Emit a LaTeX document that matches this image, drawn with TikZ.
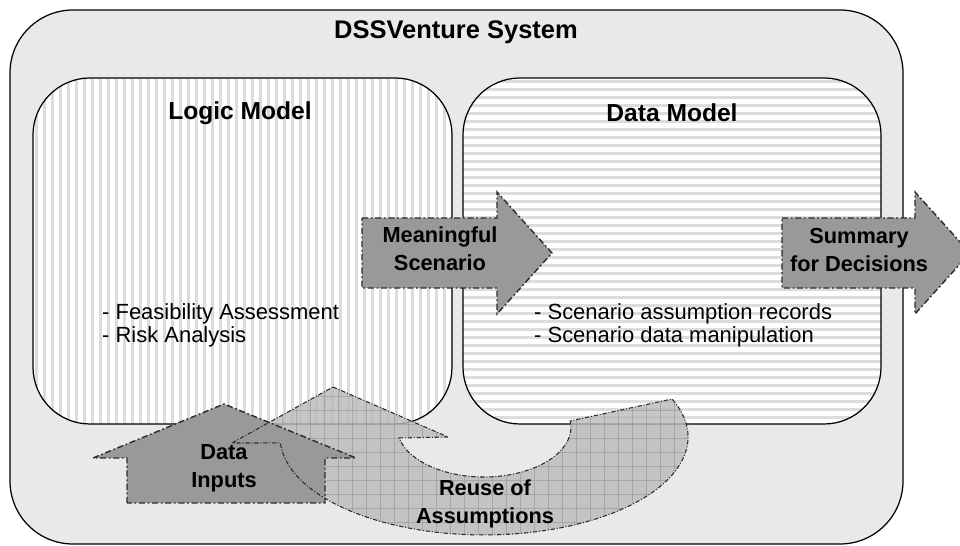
\documentclass[tikz,border=0pt]{standalone}
\usepackage{fontspec}
\setmainfont{Liberation Sans}
\usetikzlibrary{positioning, calc}

\definecolor{sysgray}{HTML}{E9E9E9}
\definecolor{stripegray}{HTML}{DCDCDC}
\definecolor{arrowgray}{HTML}{999999}
\definecolor{reusegray}{HTML}{BABABA}
\definecolor{gridgray}{HTML}{A0A0A0}
\definecolor{edgegray}{HTML}{2B2B2B}

\tikzset{
  modelbox/.style={draw=black, line width=0.7pt, rounded corners=1.14cm},
  blockarrow/.style={fill=arrowgray, draw=edgegray, line width=0.8pt,
    dash pattern=on 3.5pt off 1.5pt on 1pt off 1.5pt},
  reuseedge/.style={draw=edgegray, line width=0.6pt,
    dash pattern=on 2.5pt off 1pt on 0.6pt off 1pt},
  boxtitle/.style={font=\bfseries\fontsize{14}{16}\selectfont},
  arrowlabel/.style={font=\bfseries\fontsize{12.4}{16}\selectfont, align=center},
  itemtext/.style={font=\fontsize{12.5}{13.1}\selectfont, align=left, anchor=west},
}

\begin{document}
\begin{tikzpicture}[x=0.02cm, y=-0.02cm]
    \useasboundingbox (0,0) rectangle (960,546);

    % --- System frame ---
    \draw[fill=sysgray, line width=0.7pt, rounded corners=1.26cm] (10,10) rectangle (903,544);
    \node[boxtitle, font=\bfseries\fontsize{14.5}{16}\selectfont] (system) at (456,32) {DSSVenture System};

    % --- Logic Model (vertical stripes) ---
    \begin{scope}
        \clip[rounded corners=1.14cm] (33,78) rectangle (452,424);
        \fill[white] (33,78) rectangle (452,424);
        \foreach \x in {35,43,...,451}
            \fill[stripegray] (\x,78) rectangle ++(3,346);
    \end{scope}
    \draw[modelbox] (33,78) rectangle (452,424);
    \node[boxtitle] (logic title) at (240,113) {Logic Model};
    \node[itemtext] (logic items) at (96,325.5) {- Feasibility Assessment\\- Risk Analysis};

    % --- Data Model (horizontal stripes) ---
    \begin{scope}
        \clip[rounded corners=1.14cm] (463,78) rectangle (881,424);
        \fill[white] (463,78) rectangle (881,424);
        \foreach \y in {80,88,...,423}
            \fill[stripegray] (463,\y) rectangle ++(418,3);
    \end{scope}
    \draw[modelbox] (463,78) rectangle (881,424);
    \node[boxtitle] (data title) at (672,113) {Data Model};
    \node[itemtext] (data items) at (528,325.5) {- Scenario assumption records\\- Scenario data manipulation};

    % --- Reuse of Assumptions (curved arrow, fill and grid) ---
    \path[save path=\reusepath] (333,387) -- (448,437) -- (399.1,438)
        arc[start angle=167.3, end angle=-7, x radius=87, y radius=50]
        -- (672.1,399)
        arc[start angle=-22.8, end angle=176.5, x radius=204, y radius=98]
        -- (232,443) -- cycle;
    \begin{scope}
        \clip[use path=\reusepath];
        \fill[reusegray, fill opacity=0.8] (220,380) rectangle (700,540);
        \foreach \gx in {226,240,...,700}
            \draw[gridgray, line width=0.5pt, opacity=0.8] (\gx,380) -- (\gx,540);
        \foreach \gy in {382,396,...,540}
            \draw[gridgray, line width=0.5pt, opacity=0.8] (220,\gy) -- (700,\gy);
    \end{scope}

    % --- Data Inputs ---
    \draw[blockarrow] (127,503) -- (127,458) -- (93,458) -- (224,404) -- (356,458)
        -- (325,458) -- (325,503) -- cycle;
    \node[arrowlabel] (inputs) at (224,468) {Data\\Inputs};

    % outline of the curved arrow on top
    \draw[reuseedge, use path=\reusepath];
    \node[arrowlabel] (reuse) at (485,504) {Reuse of\\Assumptions};

    % --- Meaningful Scenario ---
    \draw[blockarrow] (362,218) -- (497,218) -- (497,192) -- (552,253) -- (497,314)
        -- (497,288) -- (362,288) -- cycle;
    \node[arrowlabel] (scenario) at (440,249) {Meaningful\\Scenario};

    % --- Summary for Decisions ---
    \draw[blockarrow] (782,218) -- (915,218) -- (915,192) -- (970,253) -- (915,314)
        -- (915,288) -- (782,288) -- cycle;
    \node[arrowlabel] (summary) at (859,250) {Summary\\for Decisions};

\end{tikzpicture}
\end{document}
